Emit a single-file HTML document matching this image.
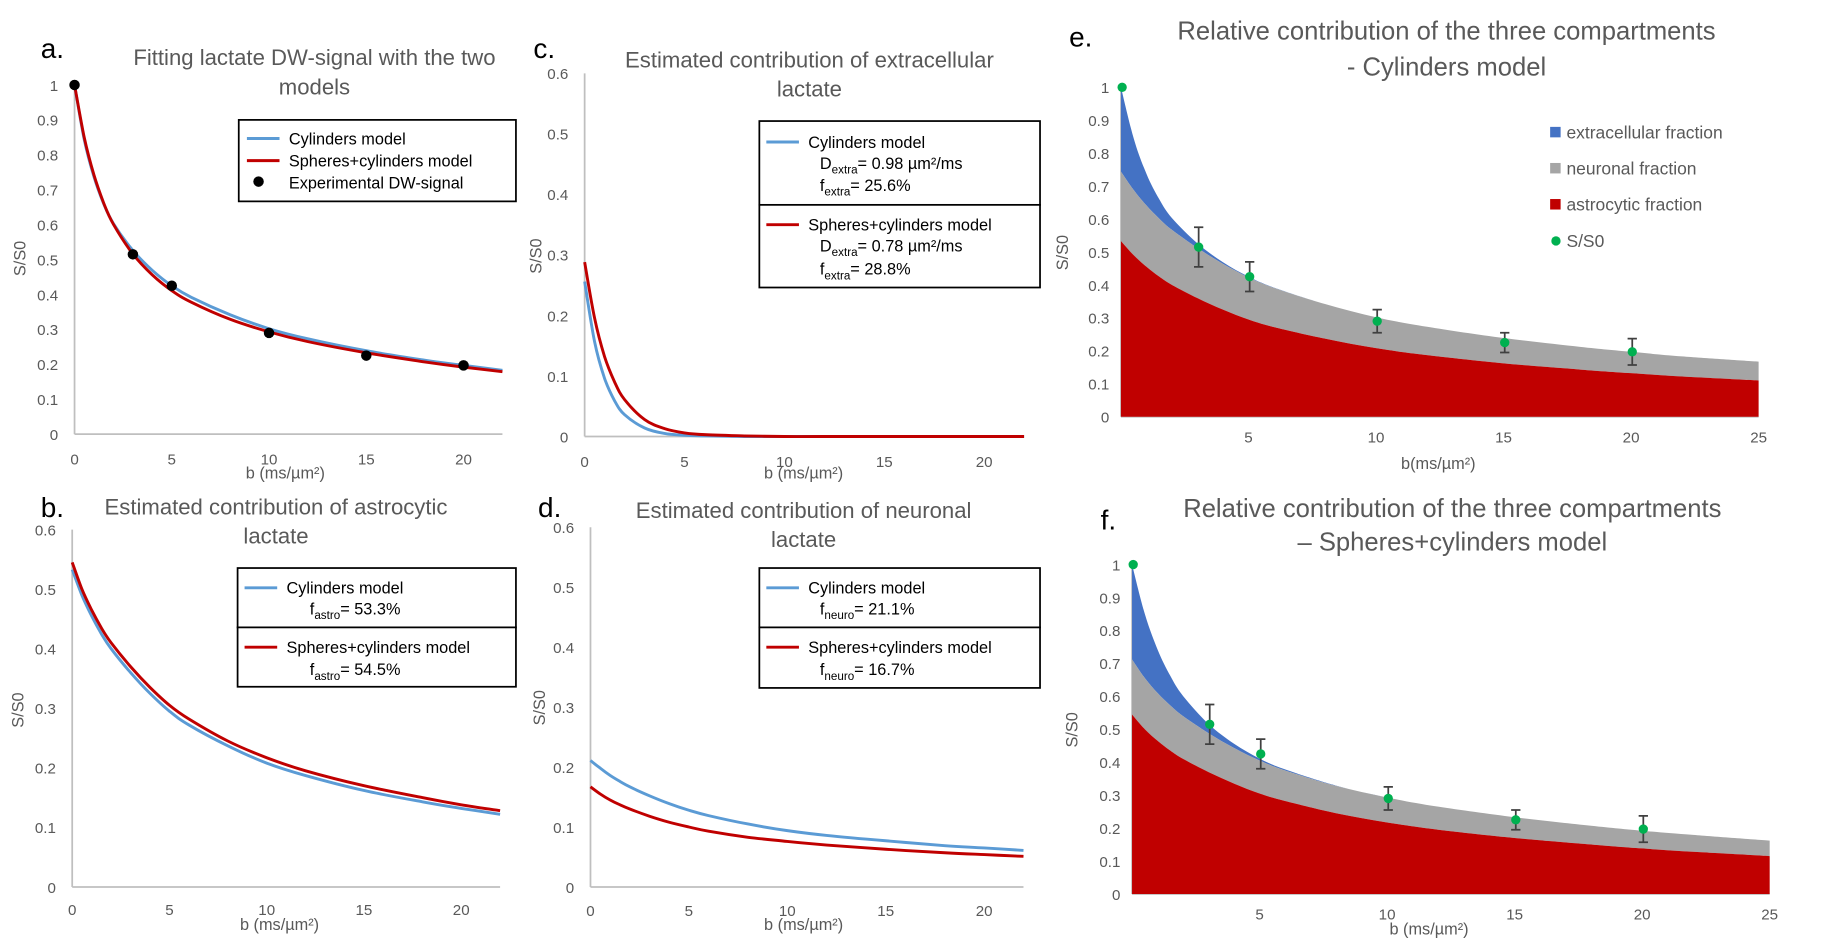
<!DOCTYPE html>
<html><head><meta charset="utf-8"><style>
html,body{margin:0;padding:0;background:#fff;}
svg{display:block;font-family:"Liberation Sans",sans-serif;}
</style></head><body>
<svg id="fig" width="1825" height="944" viewBox="0 0 1567 811" preserveAspectRatio="none" xmlns="http://www.w3.org/2000/svg"></svg>
<script>
const bGrid = [0,0.5,1,1.5,2,3,4,5,6,8,10,12,15,18,20,22,25];
const astroCyl = [0.533,0.49,0.455,0.425,0.40,0.36,0.325,0.295,0.272,0.237,0.208,0.187,0.162,0.143,0.132,0.122,0.11];
const astroSph = [0.545,0.50,0.465,0.435,0.41,0.37,0.335,0.305,0.282,0.245,0.217,0.195,0.17,0.15,0.138,0.128,0.115];
const neuroCyl = [0.211,0.198,0.186,0.176,0.167,0.152,0.139,0.128,0.119,0.105,0.094,0.086,0.077,0.069,0.065,0.061,0.057];
const neuroSph = [0.167,0.155,0.145,0.137,0.13,0.118,0.108,0.10,0.093,0.083,0.076,0.070,0.063,0.057,0.054,0.051,0.047];
const extraCyl = [0.256,0.156,0.096,0.059,0.036,0.014,0.005,0.002,0.001,0,0,0,0,0,0,0,0];
const extraSph = [0.288,0.195,0.132,0.09,0.061,0.028,0.013,0.006,0.003,0.001,0,0,0,0,0,0,0];
const expB = [0,3,5,10,15,20];
const expY = [1,0.515,0.425,0.29,0.225,0.197];
const expErr = [0,0.06,0.045,0.035,0.03,0.04];
const xTicksAD = [0,5,10,15,20];
const xTicksEF = [5,10,15,20,25];

const NS="http://www.w3.org/2000/svg";
const svg=document.getElementById('fig');
function mk(tag,attrs,parent){const e=document.createElementNS(NS,tag);for(const k in attrs)e.setAttribute(k,attrs[k]);(parent||svg).appendChild(e);return e;}
function txt(s,x,y,size,fill,anchor,parent){const t=mk('text',{x:x,y:y,'font-size':size,fill:fill,'text-anchor':anchor||'start'},parent);t.textContent=s;return t;}
function smooth(pts,start){
  let d=(start?'M':'L')+pts[0][0].toFixed(1)+','+pts[0][1].toFixed(1);
  for(let i=0;i<pts.length-1;i++){
    const p0=pts[Math.max(0,i-1)],p1=pts[i],p2=pts[i+1],p3=pts[Math.min(pts.length-1,i+2)];
    const c1x=p1[0]+(p2[0]-p0[0])/6,c1y=p1[1]+(p2[1]-p0[1])/6;
    const c2x=p2[0]-(p3[0]-p1[0])/6,c2y=p2[1]-(p3[1]-p1[1])/6;
    d+=`C${c1x.toFixed(1)},${c1y.toFixed(1)} ${c2x.toFixed(1)},${c2y.toFixed(1)} ${p2[0].toFixed(1)},${p2[1].toFixed(1)}`;
  }
  return d;
}

function panel(o){
  const g=mk('g',{});
  
  
  const X=v=>o.x0+v*o.xs, Y=v=>o.y0-v*o.ys;
  o.X=X;o.Y=Y;o.g=g;
  const ya=mk('line',{x1:o.x0,y1:o.y0,x2:o.x0,y2:Y(o.ymax),stroke:'#bfbfbf','stroke-width':1.5},g);
  
  
  const xa=mk('line',{x1:o.x0,y1:o.y0,x2:X(o.xmax),y2:o.y0,stroke:'#bfbfbf','stroke-width':1.5},g);
  
  
  for(let i=0;i<=Math.round(o.ymax/o.ystep);i++){
    const v=i*o.ystep;
    const t=txt(String(+v.toFixed(1)),o.x0-o.ylabOff,Y(v)+5,13,'#595959','end',g);
    
    
  }
  o.xticks.forEach(v=>{
    const t=txt(String(v),X(v),o.y0+o.xlabOff,13,'#595959','middle',g);
    
    
  });
  const xt=txt(o.xtitle,o.xtx,o.xty,14,'#595959','middle',g);
  
  
  const yt=mk('text',{x:0,y:0,'font-size':14,fill:'#595959','text-anchor':'middle',transform:`translate(${o.ytx},${o.yty}) rotate(-90)`},g);
  yt.textContent='S/S0';
  
  
  o.title.forEach((s,i)=>{
    const t=txt(s,o.tx,o.ty+i*o.tdy,o.tsize||19,'#595959','middle',g);
    
    
  });
  const l=txt(o.id+'.',o.lx,o.ly,24,'#000','start',g);
  
  
  return o;
}
function line(o,vals,color,name){
  const pts=[];bGrid.forEach((b,i)=>{if(b<=o.xmax)pts.push([o.X(b),o.Y(vals[i])]);});
  const p=mk('path',{d:smooth(pts,true),fill:'none',stroke:color,'stroke-width':2.5,'stroke-linejoin':'round'},o.g);
  
  
}
function area(o,lo,hi,color,name){
  const top=bGrid.map((b,i)=>[o.X(b),o.Y(hi[i])]);
  const bot=bGrid.map((b,i)=>[o.X(b),o.Y(lo[i])]).reverse();
  const d=smooth(top,true)+smooth(bot,false)+'Z';
  const p=mk('path',{d:d,fill:color},o.g);
  
  
}
const BLUE='#5b9bd5',RED='#c00000';
function legendLine(g,x,y,color,label){
  const s=mk('line',{x1:x,y1:y,x2:x+28,y2:y,stroke:color,'stroke-width':2.5},g);
  
  
  const t=txt(label,x+36,y+5,14,'#000','start',g);
  
  
}
function subText(g,x,y,main,sub,rest){
  const t=mk('text',{x:x,y:y,'font-size':14,fill:'#000'},g);
  
  
  const a=mk('tspan',{},t);a.textContent=main;
  const b=mk('tspan',{dy:4,'font-size':10},t);b.textContent=sub;
  const c=mk('tspan',{dy:-4},t);c.textContent=rest;
}
function box(g,x,y,w,h){
  const r=mk('rect',{x:x,y:y,width:w,height:h,fill:'#fff',stroke:'#000','stroke-width':1.5},g);
  
  
}

const pa=panel({id:'a',x0:64,xs:16.7,xmax:22,y0:373,ys:300,ymax:1,ystep:0.1,ylabOff:14,xticks:xTicksAD,xlabOff:26,
  xtitle:'b (ms/µm²)',xtx:245,xty:411,ytx:22,yty:222,title:['Fitting lactate DW-signal with the two','models'],tx:270,ty:56,tdy:25,lx:35,ly:50});
const totCyl=bGrid.map((b,i)=>astroCyl[i]+neuroCyl[i]+extraCyl[i]);
const totSph=bGrid.map((b,i)=>astroSph[i]+neuroSph[i]+extraSph[i]);
line(pa,totCyl,BLUE,'cylinders-model-line');
line(pa,totSph,RED,'spheres-cylinders-model-line');
expB.forEach((b,i)=>{const c=mk('circle',{cx:pa.X(b),cy:pa.Y(expY[i]),r:4.5,fill:'#000'},pa.g);
  
  });
box(pa.g,205,103,238,70);
legendLine(pa.g,212,119,BLUE,'Cylinders model');
legendLine(pa.g,212,138,RED,'Spheres+cylinders model');
const ld=mk('circle',{cx:222,cy:156,r:4.5,fill:'#000'},pa.g);


const lt=txt('Experimental DW-signal',248,162,14,'#000','start',pa.g);



const pb=panel({id:'b',x0:62,xs:16.7,xmax:22,y0:762,ys:511.7,ymax:0.6,ystep:0.1,ylabOff:14,xticks:xTicksAD,xlabOff:24,
  xtitle:'b (ms/µm²)',xtx:240,xty:799,ytx:20,yty:610,title:['Estimated contribution of astrocytic','lactate'],tx:237,ty:442,tdy:25,lx:35,ly:444});
line(pb,astroCyl,BLUE,'cylinders-astro-line');
line(pb,astroSph,RED,'spheres-astro-line');
box(pb.g,204,488,239,51);box(pb.g,204,539,239,51);
legendLine(pb.g,210,505,BLUE,'Cylinders model');
subText(pb.g,266,528,'f','astro','= 53.3%');
legendLine(pb.g,210,556,RED,'Spheres+cylinders model');
subText(pb.g,266,580,'f','astro','= 54.5%');

const pc=panel({id:'c',x0:502,xs:17.15,xmax:22,y0:375,ys:520,ymax:0.6,ystep:0.1,ylabOff:14,xticks:xTicksAD,xlabOff:26,
  xtitle:'b (ms/µm²)',xtx:690,xty:411,ytx:465,yty:220,title:['Estimated contribution of extracellular','lactate'],tx:695,ty:58,tdy:25,lx:458,ly:50});
line(pc,extraCyl,BLUE,'cylinders-extra-line');
line(pc,extraSph,RED,'spheres-extra-line');
box(pc.g,652,104,241,72);box(pc.g,652,176,241,71);
legendLine(pc.g,658,122,BLUE,'Cylinders model');
subText(pc.g,704,145,'D','extra','= 0.98 µm²/ms');
subText(pc.g,704,164,'f','extra','= 25.6%');
legendLine(pc.g,658,193,RED,'Spheres+cylinders model');
subText(pc.g,704,216,'D','extra','= 0.78 µm²/ms');
subText(pc.g,704,236,'f','extra','= 28.8%');

const pd=panel({id:'d',x0:507,xs:16.9,xmax:22,y0:762,ys:515,ymax:0.6,ystep:0.1,ylabOff:14,xticks:xTicksAD,xlabOff:25,
  xtitle:'b (ms/µm²)',xtx:690,xty:799,ytx:468,yty:608,title:['Estimated contribution of neuronal','lactate'],tx:690,ty:445,tdy:25,lx:462,ly:444});
line(pd,neuroCyl,BLUE,'cylinders-neuro-line');
line(pd,neuroSph,RED,'spheres-neuro-line');
box(pd.g,652,488,241,51);box(pd.g,652,539,241,52);
legendLine(pd.g,658,505,BLUE,'Cylinders model');
subText(pd.g,704,528,'f','neuro','= 21.1%');
legendLine(pd.g,658,556,RED,'Spheres+cylinders model');
subText(pd.g,704,580,'f','neuro','= 16.7%');

function stacked(o,astro,neuro,extra){
  const zero=bGrid.map(()=>0);
  const an=bGrid.map((b,i)=>astro[i]+neuro[i]);
  const ane=bGrid.map((b,i)=>an[i]+extra[i]);
  area(o,an,ane,'#4472c4','extracellular-area');
  area(o,astro,an,'#a5a5a5','neuronal-area');
  area(o,zero,astro,'#c00000','astrocytic-area');
  expB.forEach((b,i)=>{
    if(expErr[i]>0){
      const x=o.X(b)+1,yh=o.Y(expY[i]+expErr[i]),yl=o.Y(expY[i]-expErr[i]);
      const e=mk('path',{d:`M${x},${yh}V${yl}M${x-4},${yh}H${x+4}M${x-4},${yl}H${x+4}`,stroke:'#404040','stroke-width':1.5,fill:'none'},o.g);
      
      
    }
    const c=mk('circle',{cx:o.X(b)+1,cy:o.Y(expY[i]),r:4,fill:'#00b050'},o.g);
    
    
  });
}
const pe=panel({id:'e',x0:962.5,xs:21.9,xmax:25,y0:358,ys:283,ymax:1,ystep:0.1,ylabOff:10,xticks:xTicksEF,xlabOff:22,
  xtitle:'b(ms/µm²)',xtx:1235,xty:403,ytx:917,yty:217,title:['Relative contribution of the three compartments','- Cylinders model'],tx:1242,ty:34,tdy:31,tsize:22,lx:918,ly:40});
stacked(pe,astroCyl,neuroCyl,extraCyl);
[['#4472c4','extracellular fraction'],['#a5a5a5','neuronal fraction'],['#c00000','astrocytic fraction']].forEach((it,i)=>{
  const r=mk('rect',{x:1331,y:109+i*31,width:9,height:9,fill:it[0]},pe.g);
  
  
  const t=txt(it[1],1345,119+i*31,15,'#595959','start',pe.g);
  
  
});
const lg=mk('circle',{cx:1336,cy:207,r:4,fill:'#00b050'},pe.g);


const lgt=txt('S/S0',1345,212,15,'#595959','start',pe.g);



const pf=panel({id:'f',x0:972,xs:21.9,xmax:25,y0:768,ys:283,ymax:1,ystep:0.1,ylabOff:10,xticks:xTicksEF,xlabOff:22,
  xtitle:'b (ms/µm²)',xtx:1227,xty:803,ytx:925,yty:627,title:['Relative contribution of the three compartments','– Spheres+cylinders  model'],tx:1247,ty:444,tdy:29,tsize:22,lx:945,ly:455});
stacked(pf,astroSph,neuroSph,extraSph);
</script>
</body></html>
